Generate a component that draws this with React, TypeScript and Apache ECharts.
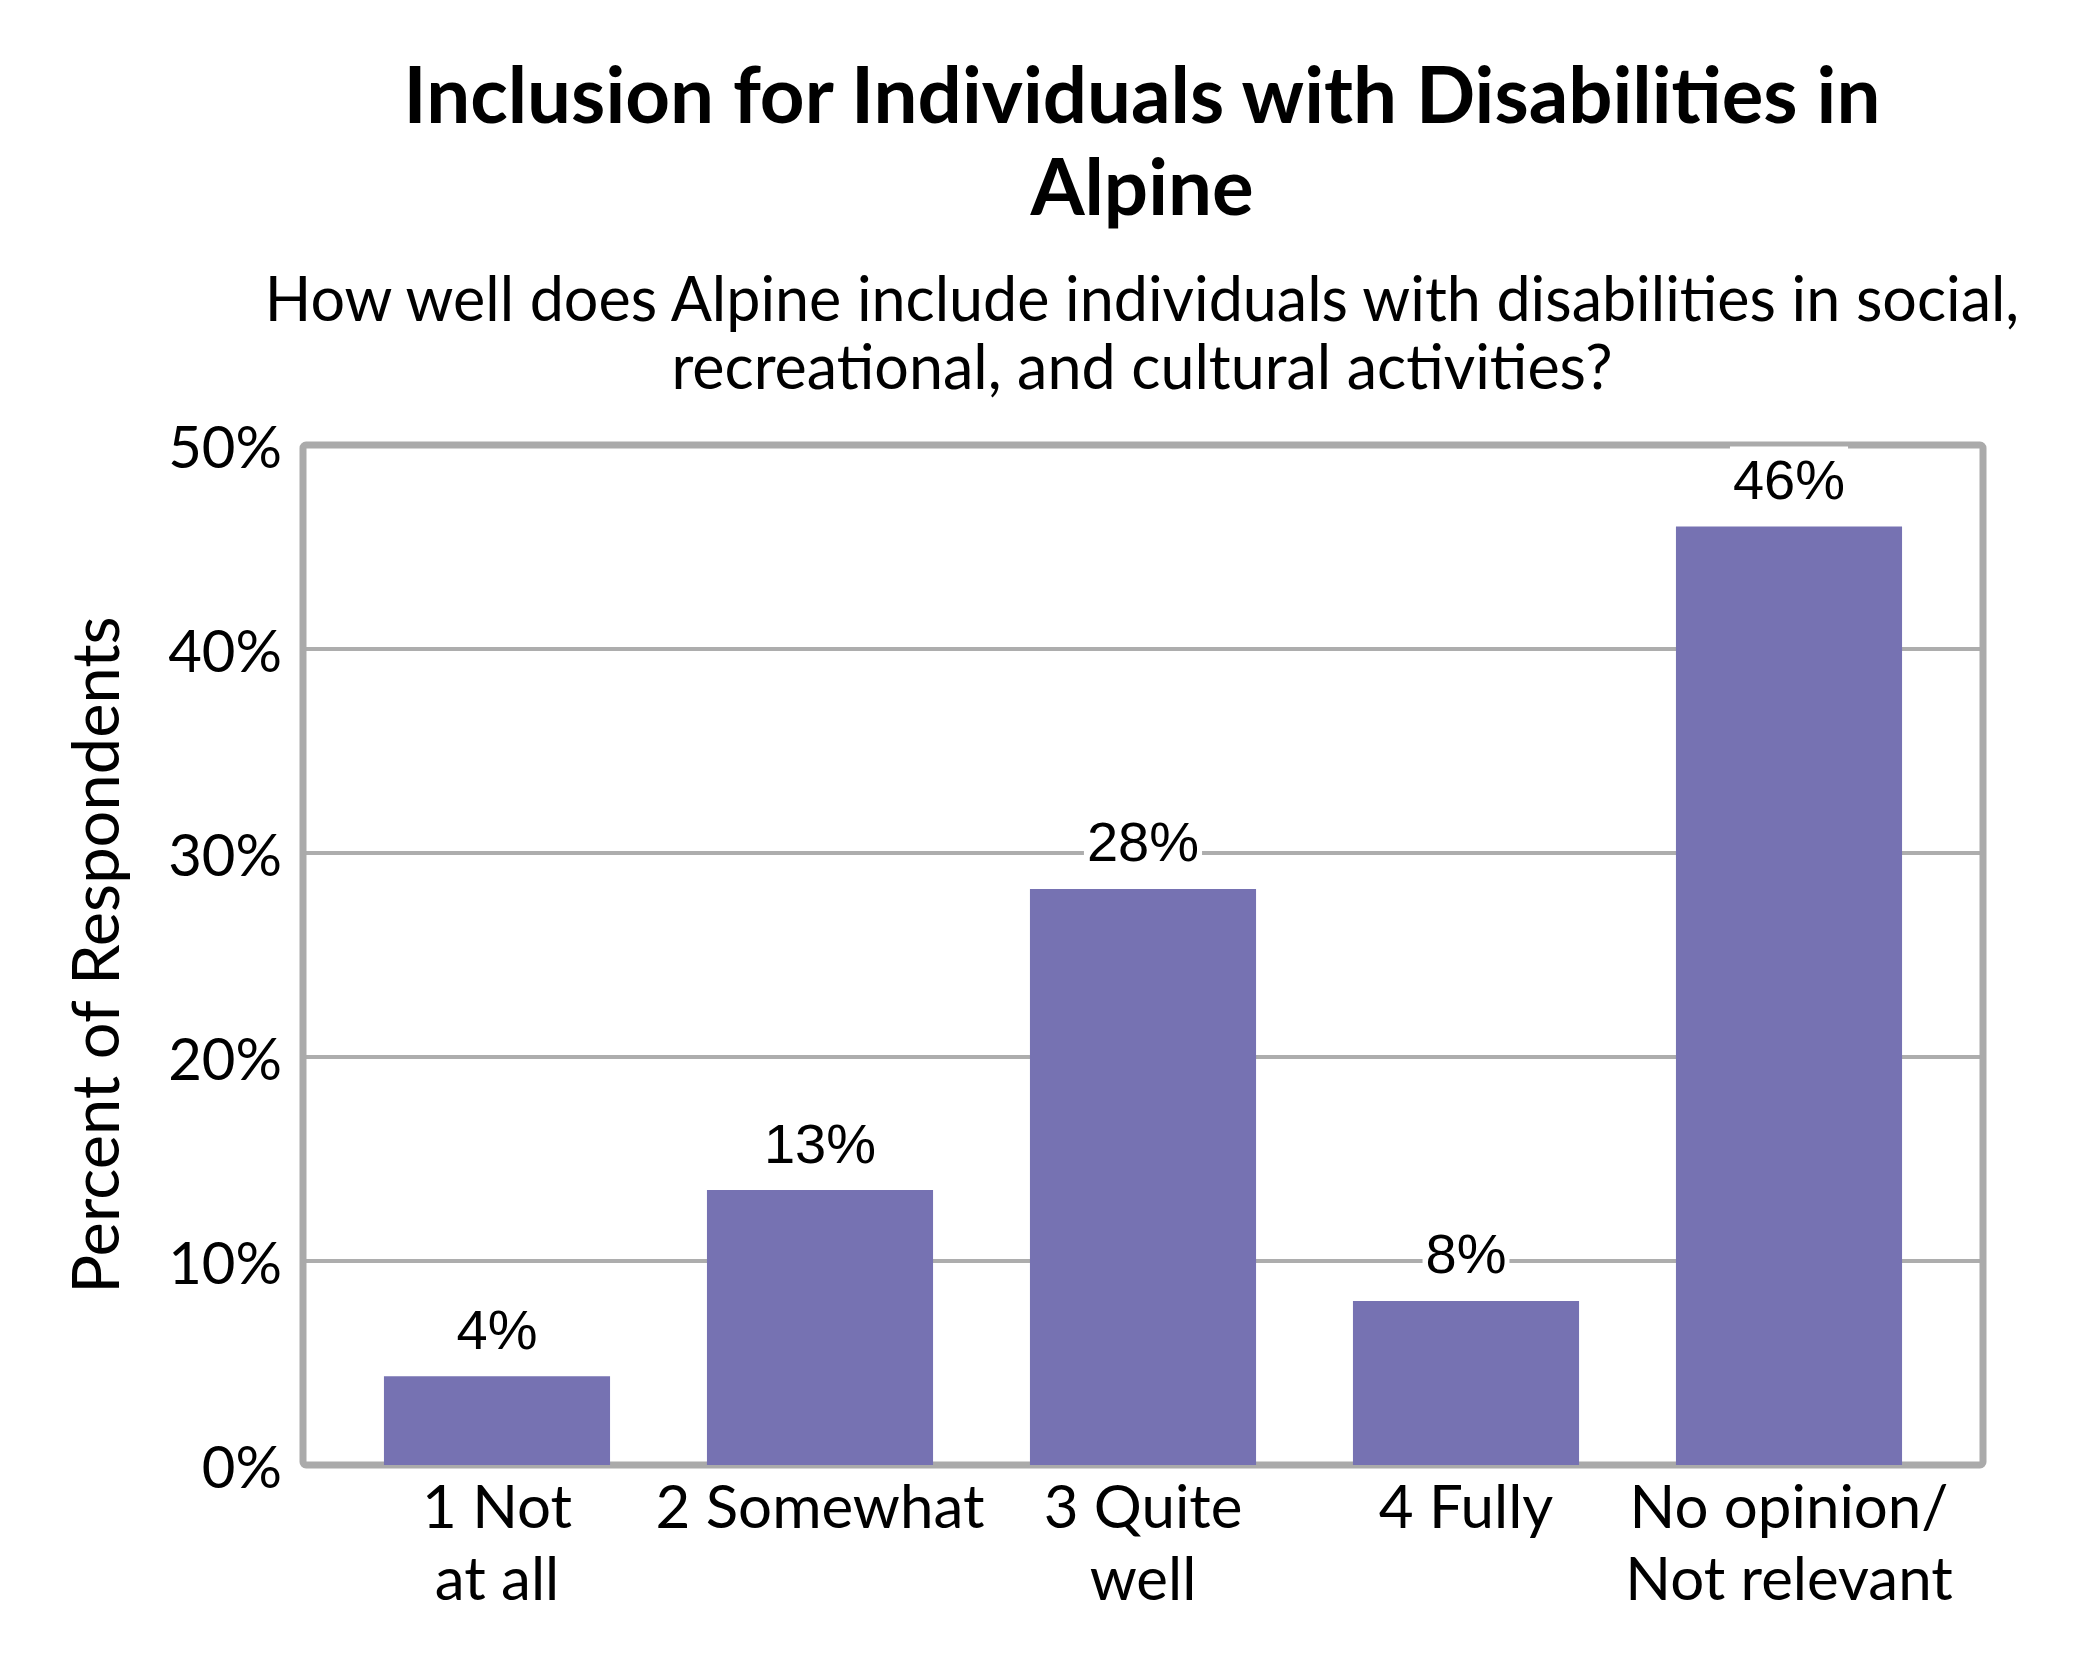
import React, { useEffect, useRef } from "react";
import * as echarts from "echarts";

const titleLines = ["Inclusion for Individuals with Disabilities in", "Alpine"];
const subtitleLines = [
  "How well does Alpine include individuals with disabilities in social,",
  "recreational, and cultural activities?",
];
const yAxisTitle = "Percent of Respondents";
const categories = ["1 Not\nat all", "2 Somewhat", "3 Quite\nwell", "4 Fully", "No opinion/\nNot relevant"];
const percentValues = [4.35, 13.48, 28.24, 8.04, 46.0];
const yMin = 0;
const yMax = 50;
const yInterval = 10;

const BAR_COLOR = "#7672b2";
const GRID_COLOR = "#adadad";
const SANS = "Lato, 'Open Sans', sans-serif";

export default function App() {
  const ref = useRef<HTMLDivElement>(null);
  useEffect(() => {
    if (!ref.current) return;
    const chart = echarts.init(ref.current, null, { renderer: "svg" });
    const frame = { left: 303, top: 445, right: 1983, bottom: 1465 };
    const barArea = { left: 335.5, right: 1950.5 };
    const option: any = {
      animation: false,
      backgroundColor: "#ffffff",
      grid: [
        {
          left: frame.left,
          top: frame.top,
          width: frame.right - frame.left,
          height: frame.bottom - frame.top,
        },
        {
          left: barArea.left,
          top: frame.top,
          width: barArea.right - barArea.left,
          height: frame.bottom - frame.top,
        },
      ],
      xAxis: [
        { type: "value", gridIndex: 0, min: 0, max: 1, show: false },
        {
          type: "category",
          gridIndex: 1,
          data: categories,
          axisLine: { show: false },
          axisTick: { show: false },
          axisLabel: {
            interval: 0,
            margin: 4,
            color: "#000",
            fontFamily: SANS,
            fontSize: 60,
            lineHeight: 72,
          },
        },
      ],
      yAxis: [
        {
          type: "value",
          gridIndex: 0,
          min: yMin,
          max: yMax,
          interval: yInterval,
          axisLine: { show: false },
          axisTick: { show: false },
          axisLabel: {
            formatter: "{value}%",
            margin: 21,
            color: "#000",
            fontFamily: SANS,
            fontSize: 58,
          },
          splitLine: { show: true, lineStyle: { color: GRID_COLOR, width: 4 } },
        },
        { type: "value", gridIndex: 1, min: yMin, max: yMax, show: false },
      ],
      series: [
        {
          type: "bar",
          xAxisIndex: 1,
          yAxisIndex: 1,
          data: percentValues,
          barCategoryGap: "30%",
          z: 3,
          itemStyle: { color: BAR_COLOR },
          label: {
            show: true,
            position: "top",
            distance: 17,
            formatter: (p: any) => Math.round(p.value) + "%",
            color: "#000",
            fontFamily: "'Liberation Sans', Arial, sans-serif",
            fontSize: 56,
            backgroundColor: "#ffffff",
            padding: [5, 3, 2, 3],
          },
        },
      ],
      graphic: [
        {
          type: "rect",
          z: 1,
          shape: {
            x: frame.left,
            y: frame.top,
            width: frame.right - frame.left,
            height: frame.bottom - frame.top,
            r: 3,
          },
          style: { fill: "none", stroke: "#aaaaaa", lineWidth: 7 },
        },
        {
          type: "text",
          x: 1142,
          y: 139,
          style: {
            text: titleLines.join("\n"),
            fill: "#000",
            fontFamily: SANS,
            fontWeight: "bold",
            fontSize: 78,
            lineHeight: 92,
            align: "center",
            verticalAlign: "middle",
          },
        },
        {
          type: "text",
          x: 1142,
          y: 331,
          style: {
            text: subtitleLines.join("\n"),
            fill: "#000",
            fontFamily: SANS,
            fontSize: 61,
            lineHeight: 68,
            align: "center",
            verticalAlign: "middle",
          },
        },
        {
          type: "text",
          x: 94,
          y: 955,
          rotation: Math.PI / 2,
          style: {
            text: yAxisTitle,
            fill: "#000",
            fontFamily: SANS,
            fontSize: 65,
            align: "center",
            verticalAlign: "middle",
          },
        },
      ],
    };
    chart.setOption(option);
    return () => chart.dispose();
  }, []);
  return (
    <div
      ref={ref}
      style={{ position: "fixed", left: 0, top: 0, width: 2100, height: 1680, background: "#fff" }}
    />
  );
}
